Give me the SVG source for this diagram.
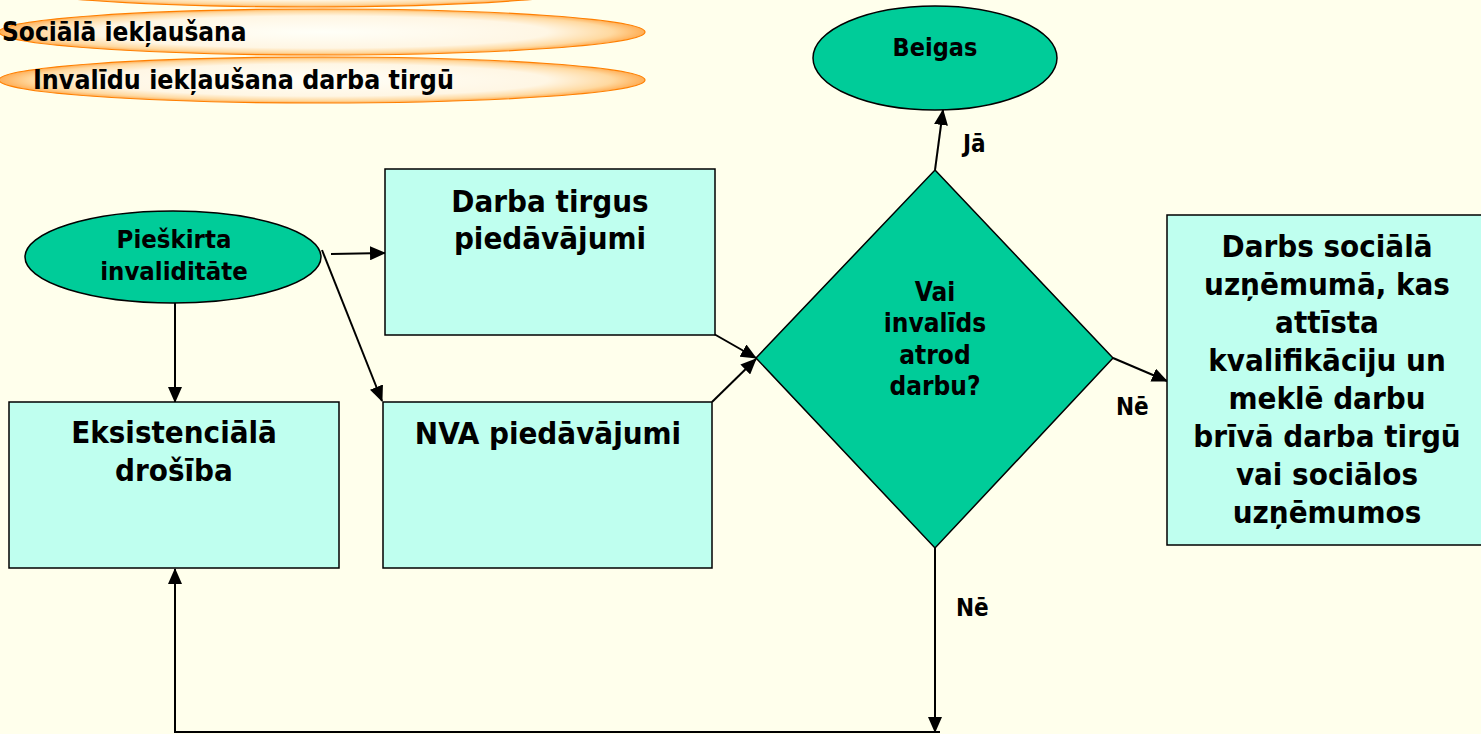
<svg xmlns="http://www.w3.org/2000/svg" width="1481" height="734" viewBox="0 0 1481 734">
<defs>
<radialGradient id="og" cx="0.5" cy="0.5" r="0.5">
<stop offset="0" stop-color="#FFFFF8"/>
<stop offset="0.7" stop-color="#FFF6E4"/>
<stop offset="0.9" stop-color="#FFD9A0"/>
<stop offset="1" stop-color="#FFAE55"/>
</radialGradient>
<marker id="ah" markerWidth="16" markerHeight="14" refX="15" refY="7" orient="auto" markerUnits="userSpaceOnUse">
<path d="M0,0 L16,7 L0,14 Z" fill="#000"/>
</marker>
<style>
text{font-family:"DejaVu Sans Condensed","DejaVu Sans",sans-serif;font-stretch:condensed;font-weight:bold;fill:#000}
.c{text-anchor:middle}
.band{fill:url(#og);stroke:#FF7F00;stroke-width:1.2}
.term{fill:#00CC99;stroke:#000;stroke-width:1.5}
.box{fill:#BFFFEF;stroke:#000;stroke-width:1.5}
.ln{fill:none;stroke:#000;stroke-width:2}
.arr{fill:none;stroke:#000;stroke-width:2;marker-end:url(#ah)}
</style>
</defs>
<rect x="0" y="0" width="1481" height="734" fill="#FFFFEC"/>

<g id="band1"><ellipse class="band" cx="305" cy="-16" rx="306" ry="23"/></g>
<g id="band2"><ellipse class="band" cx="322" cy="32" rx="323" ry="23"/><text x="2" y="41" font-size="26">Sociālā iekļaušana</text></g>
<g id="band3"><ellipse class="band" cx="322" cy="80" rx="323" ry="23"/><text x="33" y="89" font-size="26.5">Invalīdu iekļaušana darba tirgū</text></g>

<g id="connectors">
<line class="arr" x1="331" y1="254" x2="385" y2="253"/>
<line class="arr" x1="322" y1="250" x2="382" y2="401"/>
<line class="arr" x1="175" y1="303" x2="175" y2="402"/>
<line class="arr" x1="714" y1="334" x2="756" y2="358"/>
<line class="arr" x1="712" y1="402" x2="756" y2="359"/>
<line class="arr" x1="935" y1="170" x2="943" y2="110"/>
<line class="arr" x1="1113" y1="358" x2="1167" y2="381"/>
<line class="arr" x1="935" y1="548" x2="935" y2="732"/>
<line class="ln" x1="174" y1="732" x2="940" y2="732"/>
<line class="arr" x1="175" y1="732" x2="175" y2="569"/>
<text x="963" y="152" font-size="24">Jā</text>
<text x="1116" y="415" font-size="24">Nē</text>
<text x="956" y="616" font-size="24">Nē</text>
</g>

<g id="start"><ellipse class="term" cx="173" cy="257" rx="148" ry="46"/>
<text class="c" x="174" y="248" font-size="25.5">Pieškirta</text>
<text class="c" x="174" y="280" font-size="25.5">invaliditāte</text></g>

<g id="market"><rect class="box" x="385" y="169" width="330" height="166"/>
<text class="c" x="550" y="212" font-size="31">Darba tirgus</text>
<text class="c" x="550" y="249" font-size="31">piedāvājumi</text></g>

<g id="nva"><rect class="box" x="383" y="402" width="329" height="166"/>
<text class="c" x="548" y="444" font-size="31">NVA piedāvājumi</text></g>

<g id="security"><rect class="box" x="9" y="402" width="330" height="166"/>
<text class="c" x="174" y="443" font-size="31">Eksistenciālā</text>
<text class="c" x="174" y="481" font-size="31">drošība</text></g>

<g id="decision"><polygon class="term" points="935,170 1113,358 935,548 756,358"/>
<text class="c" x="935" y="301" font-size="26">Vai</text>
<text class="c" x="935" y="332" font-size="26">invalīds</text>
<text class="c" x="935" y="364" font-size="26">atrod</text>
<text class="c" x="935" y="395" font-size="26">darbu?</text></g>

<g id="end"><ellipse class="term" cx="935" cy="58" rx="122" ry="52"/>
<text class="c" x="935" y="56" font-size="25">Beigas</text></g>

<g id="social"><rect class="box" x="1167" y="215" width="322" height="330"/>
<text class="c" x="1327" y="257" font-size="31">Darbs sociālā</text>
<text class="c" x="1327" y="295" font-size="31">uzņēmumā, kas</text>
<text class="c" x="1327" y="333" font-size="31">attīsta</text>
<text class="c" x="1327" y="371" font-size="31">kvalifikāciju un</text>
<text class="c" x="1327" y="409" font-size="31">meklē darbu</text>
<text class="c" x="1327" y="447" font-size="31">brīvā darba tirgū</text>
<text class="c" x="1327" y="485" font-size="31">vai sociālos</text>
<text class="c" x="1327" y="523" font-size="31">uzņēmumos</text></g>
</svg>
